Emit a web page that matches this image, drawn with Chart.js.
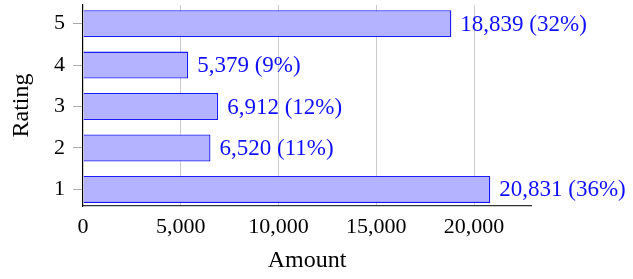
<!DOCTYPE html>
<html>
<head>
<meta charset="utf-8">
<script src="https://cdn.jsdelivr.net/npm/chart.js@4"></script>
<style>
  html, body { margin: 0; padding: 0; background: #fff; }
  #wrap { width: 633px; height: 279px; }
</style>
</head>
<body>
<div id="wrap"><canvas id="ratingChart"></canvas></div>
<script>
// 별점별 개수
const ratings = [5, 4, 3, 2, 1];
const amounts = [18839, 5379, 6912, 6520, 20831];
const shares = [32, 9, 12, 11, 36];
const amountTicks = [0, 5000, 10000, 15000, 20000];

const FONT = "'Liberation Serif', 'DejaVu Serif', serif";
const fmt = n => n.toLocaleString('en-US');

// 막대 끝에 값 표시
const barLabels = {
  id: 'barLabels',
  afterDatasetsDraw(chart) {
    const ctx = chart.ctx;
    const meta = chart.getDatasetMeta(0);
    ctx.save();
    ctx.font = '23px ' + FONT;
    ctx.fillStyle = '#1010ff';
    ctx.textBaseline = 'middle';
    ctx.textAlign = 'left';
    meta.data.forEach((bar, i) => {
      ctx.fillText(fmt(amounts[i]) + ' (' + shares[i] + '%)', bar.x + 9, bar.y + 1);
    });
    ctx.restore();
  }
};

new Chart(document.getElementById('ratingChart'), {
  type: 'bar',
  data: {
    datasets: [{
      data: ratings.map((r, i) => ({ x: amounts[i], y: r })),
      backgroundColor: 'rgb(179, 179, 255)',
      borderColor: '#1a1aff',
      borderWidth: 1.3,
      barPercentage: 0.65,
      categoryPercentage: 1
    }]
  },
  options: {
    indexAxis: 'y',
    responsive: true,
    maintainAspectRatio: false,
    animation: false,
    layout: { padding: { top: 5, right: 102, left: 0, bottom: 0 } },
    plugins: { legend: { display: false }, tooltip: { enabled: false } },
    scales: {
      x: {
        type: 'linear',
        min: 0,
        max: 22914,
        afterBuildTicks: s => { s.ticks = amountTicks.map(v => ({ value: v })); },
        afterFit: s => { s.height = 73; s.paddingLeft = 0; s.paddingRight = 0; },
        grid: {
          color: ctx => ctx.tick && ctx.tick.value === 0 ? 'rgba(0,0,0,0)' : '#cccccc',
          drawTicks: false
        },
        border: { display: true, color: '#333333', width: 1.2 },
        ticks: {
          color: '#000',
          font: { family: FONT, size: 22 },
          padding: 8,
          callback: v => fmt(v)
        },
        title: {
          display: true,
          text: 'Amount',
          color: '#000',
          font: { family: FONT, size: 24 },
          padding: { top: 4 }
        }
      },
      y: {
        type: 'linear',
        min: 0.6,
        max: 5.45,
        offset: false,
        afterBuildTicks: s => { s.ticks = ratings.map(v => ({ value: v })); },
        afterFit: s => { s.width = 83; s.paddingTop = 0; s.paddingBottom = 0; },
        grid: {
          offset: false,
          drawOnChartArea: false,
          drawTicks: true,
          tickLength: 10,
          color: '#aaaaaa'
        },
        border: { display: true, color: '#000', width: 1.2 },
        ticks: {
          color: '#000',
          font: { family: FONT, size: 22 },
          padding: 8
        },
        title: {
          display: true,
          text: 'Rating',
          color: '#000',
          font: { family: FONT, size: 24 },
          padding: { top: 7, bottom: 0 }
        }
      }
    }
  },
  plugins: [barLabels]
});
</script>
</body>
</html>
